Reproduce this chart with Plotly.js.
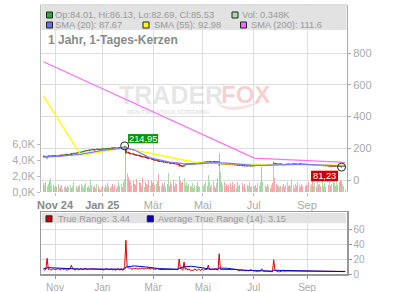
<!DOCTYPE html>
<html><head><meta charset="utf-8">
<script src="https://cdn.plot.ly/plotly-3.0.1.min.js"></script>
<style>html,body{margin:0;padding:0;background:#fff;}#chart{width:400px;height:292px;}</style>
</head><body><div id="chart"></div>
<script>
// ---------- DATA ----------
const firstDay = '2024-10-18', lastDay = '2025-10-14';
const holidays = ['2024-12-24','2024-12-25','2024-12-26','2024-12-31','2025-01-01','2025-04-18','2025-04-21','2025-05-01'];

const open = [
 150,147,150,146,149,152,148,151,154,150,                                   // Oct 24
 153,151,149,153,156,154,158,155,159,162,160,157,161,164,162,166,169,167,170,173,171, // Nov
 175,176,180,178,183,186,184,188,186,190,193,191,189,192,195,193,190,194,   // Dec
 196,195,197,194,198,200,197,199,202,200,203,201,199,202,205,203,206,204,207,209,172,175, // Jan 25
 171,168,165,167,162,160,158,155,157,152,150,148,145,147,142,140,138,135,137,132, // Feb
 129,127,124,126,121,119,117,119,115,113,115,111,109,111,107,105,108,104,102,105,101, // Mar
 99,92,90,88,86,94,96,101,99,103,100,102,104,101,105,107,104,108,110,108,   // Apr
 110,111,113,115,111,114,116,113,115,117,114,112,115,114,102,104,101,103,100,102,99, // May
 101,100,98,99,96,97,95,96,93,94,92,93,90,91,89,90,88,89,91,88,90,          // Jun
 89,90,92,91,93,95,98,93,95,94,96,94,95,97,96,98,96,105,103,101,100,101,102, // Jul
 99,96,98,97,99,101,100,98,99,101,102,100,101,99,100,102,101,99,98,100,99,  // Aug
 96,97,95,96,98,96,94,95,93,94,92,93,91,92,90,91,89,90,88,89,87,88,         // Sep
 86,87,86,88,87,86,84,83,85,84.01                                           // Oct 25
];
const high = [
 152,152,151,152,154,153,152,156,155,155,
 155,153,154,158,157,160,159,161,164,163,161,162,166,170,168,171,170,172,175,174,177,
 179,182,182,185,188,188,190,190,192,195,195,193,194,197,197,195,196,198,
 198,199,198,200,202,201,201,204,203,205,204,203,204,207,206,208,207,209,214.95,210,178,177,
 173,170,169,168,164,162,160,159,158,154,152,150,149,148,144,142,140,139,138,134,
 131,129,128,127,123,121,121,120,117,117,116,113,113,112,109,110,109,106,107,106,103,
 104,95,93,90,99,99,103,102,105,104,104,106,105,107,109,108,110,112,111,113,
 113,115,117,116,120,118,117,117,119,118,116,117,116,116,106,105,105,104,103,103,103,
 103,101,101,100,99,98,98,97,96,95,95,94,93,92,92,91,91,93,92,92,91,
 92,93,93,94,96,98,99,96,96,97,97,96,98,98,99,99,115,106,104,102,102,103,103,
 100,99,99,100,102,102,101,100,102,103,103,102,102,101,103,103,102,100,101,101,100,
 98,98,97,99,99,97,96,96,95,95,94,94,93,93,92,92,91,91,90,90,89,89,
 88,88,89,89,88,87,85,86,87,86.13
];
const low = [
 145,146,144,131,148,146,147,150,148,149,
 149,147,148,151,152,152,153,154,157,158,155,156,159,158,161,164,165,165,168,169,170,
 172,175,176,177,181,182,183,184,185,188,189,187,187,190,191,188,189,192,
 192,194,192,193,196,195,195,197,198,198,199,197,197,200,201,201,202,203,205,165,168,169,
 165,162,163,160,157,155,152,153,150,147,145,142,143,140,137,135,132,133,130,126,
 125,122,122,119,117,115,115,113,111,111,109,107,107,105,103,103,102,100,100,99,97,
 84,88,86,85,83,93,95,97,98,99,99,101,100,100,104,103,103,107,106,106,
 108,109,111,110,108,112,111,111,113,112,110,110,111,89,100,99,99,98,98,97,97,
 98,96,96,95,94,93,93,91,92,90,90,88,89,87,88,86,87,88,86,87,87,
 88,89,90,90,92,94,92,92,93,93,93,93,94,95,95,96,95,102,100,99,99,100,99,
 95,95,96,96,98,99,97,97,98,100,99,99,98,98,99,100,98,97,97,98,96,
 95,94,94,95,95,93,93,92,92,91,91,90,90,89,89,88,88,87,87,86,86,85,
 85,85,85,86,85,83,81.23,82,84,82.69
];
const close = [
 147,150,146,149,152,148,151,154,150,153,
 151,149,153,156,154,158,155,159,162,160,157,161,164,162,166,169,167,170,173,171,175,
 176,180,178,183,186,184,188,186,190,193,191,189,192,195,193,190,194,196,
 195,197,194,198,200,197,199,202,200,203,201,199,202,205,203,206,204,207,210,172,175,171,
 168,165,167,162,160,158,155,157,152,150,148,145,147,142,140,138,135,137,132,129,
 127,124,126,121,119,117,119,115,113,115,111,109,111,107,105,108,104,102,105,101,99,
 92,90,88,86,94,97,101,99,103,100,102,104,101,105,107,104,108,110,108,111,
 111,113,115,112,114,116,113,115,117,114,112,115,113,102,104,101,103,100,102,99,101,
 100,98,99,96,97,95,96,93,94,92,93,90,91,89,90,88,89,91,88,90,89,
 90,92,91,93,95,97,93,95,94,96,94,95,97,96,98,97,105,103,101,100,101,102,100,
 96,98,97,99,101,100,98,99,101,102,100,101,99,100,102,101,99,98,100,99,97,
 97,95,96,98,96,94,95,93,94,92,93,91,92,90,91,89,90,88,89,87,88,86,
 87,86,88,87,86,84,83,85,86,85.53
];
// volume in thousands
const volume = [
 1.1,0.9,1.3,0.8,1.0,1.4,1.8,0.7,0.9,0.6,
 0.8,0.6,1.0,0.5,0.7,0.9,0.4,0.6,0.8,0.5,0.7,0.6,0.9,0.5,0.7,1.2,0.6,0.8,0.5,0.7,0.9,
 1.0,0.7,0.5,0.9,1.1,0.6,0.8,0.5,1.5,0.9,0.6,0.7,0.5,1.0,0.8,0.4,0.3,0.6,
 0.7,0.5,0.9,0.6,1.1,0.8,0.5,0.7,1.0,0.6,0.9,0.5,0.8,1.3,0.7,1.0,0.6,1.2,1.6,5.5,2.4,1.9,
 1.5,1.2,0.8,1.4,1.0,0.9,1.6,0.7,1.3,1.1,0.8,1.7,0.6,1.2,1.0,0.9,1.5,0.7,1.4,1.1,
 1.2,0.9,1.0,1.4,2.3,0.8,0.7,1.1,0.9,1.3,0.6,1.0,2.4,0.8,1.2,0.9,1.5,0.7,1.1,1.0,2.2,
 2.0,1.4,1.1,1.2,1.8,0.9,1.2,0.7,1.0,0.6,0.8,1.1,0.5,0.9,0.7,1.2,0.8,0.6,1.0,0.9,
 0.8,1.0,1.3,0.7,2.1,1.2,0.6,0.9,1.4,0.8,0.5,1.1,1.7,4.9,2.5,1.3,0.9,1.2,0.7,1.0,0.8,
 0.9,1.1,0.6,1.3,0.8,1.0,0.5,1.2,0.7,0.9,0.6,1.1,0.8,1.0,0.5,0.9,0.7,1.2,0.6,0.8,0.7,
 0.7,0.9,0.5,1.1,0.8,1.3,3.1,1.2,0.7,0.9,0.6,1.0,0.8,0.5,0.9,1.1,3.6,1.8,1.0,0.7,0.9,0.6,0.8,
 0.8,1.0,0.6,0.9,1.2,0.7,0.9,0.8,1.6,0.9,0.5,1.0,0.7,1.3,0.9,0.6,1.0,0.8,1.2,0.7,0.9,
 0.9,1.2,0.7,1.0,1.4,0.8,1.1,0.6,1.3,0.9,1.0,0.7,1.5,0.8,1.1,0.6,1.4,0.9,1.2,0.7,1.0,1.3,
 1.1,0.8,1.3,0.9,1.2,1.5,1.4,1.0,0.7,0.348
];
const trueRange = [
 6,5,7,21,6,7,5,6,7,6,
 6,6,6,7,5,8,6,7,7,5,6,6,7,12,7,7,5,7,7,5,7,
 7,7,6,8,7,6,7,6,7,7,6,6,7,7,6,7,7,6,
 6,5,7,7,6,6,6,7,5,7,5,6,7,7,5,7,5,6,10,45,10,8,
 8,8,6,8,7,7,8,6,8,7,7,8,6,8,7,7,8,6,8,8,
 6,7,6,8,6,6,6,7,6,6,7,6,6,7,6,7,7,6,7,7,6,
 20,7,7,5,16,6,8,5,7,5,5,5,5,7,5,5,7,5,5,7,
 5,6,6,6,12,6,6,6,6,6,6,7,5,27,6,6,6,6,5,6,6,
 5,5,5,5,5,5,5,6,4,5,5,6,4,5,4,5,4,5,6,5,4,
 4,4,3,4,4,4,7,4,3,4,4,3,4,3,4,3,19,6,4,3,3,3,4,
 4,4,3,4,4,3,4,3,4,3,4,3,4,3,4,3,4,3,4,3,4,
 3,4,3,4,4,4,3,4,3,4,3,4,3,4,3,4,3,4,3,4,3,4,
 3,3,4,3,3,4,3.8,4,3,3.44
];
const sma20Dates  = ['2024-10-18','2024-11-08','2024-11-29','2024-12-16','2025-01-03','2025-01-17','2025-01-28','2025-02-07','2025-02-26','2025-03-20','2025-04-04','2025-04-17','2025-05-02','2025-05-16','2025-05-30','2025-06-13','2025-06-30','2025-07-15','2025-07-31','2025-08-15','2025-08-29','2025-09-15','2025-09-30','2025-10-14'];
const sma20Values = [145,150,162,177,188,196,203,189,140,113,103,100,103,109,106,98,92,93,97,99,99,96,91,87.67];
const sma55Dates  = ['2024-10-18','2024-12-02','2025-01-27','2025-04-25','2025-07-01','2025-10-14'];
const sma55Values = [530,154,202,107,99,92.98];
const sma200Dates  = ['2024-10-18','2025-07-01','2025-10-14'];
const sma200Values = [745,138,111.6];
const atrDates  = ['2024-10-18','2024-10-22','2024-10-23','2024-11-08','2024-11-29','2024-12-20','2025-01-28','2025-01-29','2025-02-07','2025-02-20','2025-03-07','2025-03-31','2025-04-01','2025-04-07','2025-04-15','2025-04-30','2025-05-09','2025-05-20','2025-05-21','2025-05-30','2025-06-16','2025-07-10','2025-07-22','2025-07-23','2025-08-08','2025-08-29','2025-09-30','2025-10-14'];
const atrValues = [7.5,7.2,8.5,7.6,6.6,6.6,6.4,9.3,10.8,9.5,7.2,6.4,7.5,9.5,10.3,8.3,6.6,6.2,8.0,7.6,5.2,4.2,3.9,5.0,4.4,3.6,3.5,3.15];
const tickDates = ['2024-11-01','2025-01-02','2025-03-03','2025-05-02','2025-07-01','2025-09-01'];
const mainTickLabels = ['Nov 24','Jan 25','Mär','Mai','Jul','Sep'];
const lowTickLabels = ['Nov','Jan','Mär','Mai','Jul','Sep'];
const volTicks = [0,2,4,6];
const volTickLabels = ['0,0K','2,0K','4,0K','6,0K'];
const priceTicks = [0,200,400,600,800];
const atrTicks = [0,20,40,60];

// ---------- BUILD ----------
function tradingDays(){
  const out=[]; const d=new Date(firstDay+'T00:00:00Z'); const end=new Date(lastDay+'T00:00:00Z');
  while(d<=end){ const wd=d.getUTCDay(); const s=d.toISOString().slice(0,10);
    if(wd!==0 && wd!==6 && !holidays.includes(s)) out.push(s);
    d.setUTCDate(d.getUTCDate()+1); }
  return out;
}
const days = tradingDays();
const N = Math.min(days.length, close.length);
const xs = days.slice(0,N).map(s=>s+' 12:00');
const noon = a => a.map(s=>s+' 12:00');

const FONT = 'Liberation Sans, Arial, sans-serif';
const W=400,H=292,L=41,R=53,T=5,B=18;
const PW=W-L-R, PH=H-T-B;
const px = x => (x-L)/PW;
const py = y => (H-B-y)/PH;
const mainBottom = py(192), lowTop = py(212);
const kPrice = 127/800; // px per price unit
const priceRange = [-(192-180)/kPrice, (180-5)/kPrice];
const volRange = [0, 187/8];
const atrRange = [0, 62/0.75];
const xRange = ['2024-10-16 10:34','2025-10-16 00:00'];
const rb = [{bounds:['sat','mon']},{values:holidays}];

const upC='#33a833', dnC='#cc1111';
const volColors = xs.map((_,i)=> close[i]>=open[i] ? '#a9dca9' : '#f3a7aa');

let iMax=0,iMin=0;
for(let i=0;i<N;i++){ if(high[i]>high[iMax]) iMax=i; if(low[i]<low[iMin]) iMin=i; }

const traces = [
  {type:'bar', x:xs, y:volume.slice(0,N), xaxis:'x', yaxis:'y', width:0.8*864e5,
   marker:{color:volColors, line:{width:0}}, hoverinfo:'skip'},
  {type:'scatter', mode:'lines', x:noon(sma200Dates), y:sma200Values, xaxis:'x', yaxis:'y2', line:{color:'#ff70ff', width:1.3}},
  {type:'scatter', mode:'lines', x:noon(sma55Dates), y:sma55Values, xaxis:'x', yaxis:'y2', line:{color:'#ffff00', width:1.3}},
  {type:'scatter', mode:'lines', x:noon(sma20Dates), y:sma20Values, xaxis:'x', yaxis:'y2', line:{color:'#7b7bff', width:1.3}},
  {type:'candlestick', x:xs, open:open.slice(0,N), high:high.slice(0,N), low:low.slice(0,N), close:close.slice(0,N),
   xaxis:'x', yaxis:'y2', whiskerwidth:0,
   increasing:{line:{color:upC,width:1}, fillcolor:upC}, decreasing:{line:{color:dnC,width:1}, fillcolor:dnC}},
  {type:'scatter', mode:'markers', x:[xs[iMax],xs[iMin]], y:[high[iMax],low[iMin]], xaxis:'x', yaxis:'y2',
   marker:{symbol:'circle-open', size:8, color:'#222', line:{width:1, color:'#222'}}},
  {type:'scatter', mode:'lines', x:xs, y:trueRange.slice(0,N), xaxis:'x2', yaxis:'y3', line:{color:'#dd0000', width:1}},
  {type:'scatter', mode:'lines', x:noon(atrDates), y:atrValues, xaxis:'x2', yaxis:'y3', line:{color:'#0000cc', width:1}}
];

const fmt = v => v.toFixed(2).replace('.',',');
const sq = (x,y,c) => ({type:'rect', xref:'paper', yref:'paper', x0:px(x), x1:px(x+6), y0:py(y+3), y1:py(y-3),
  fillcolor:c, line:{color:'#222', width:1}, layer:'above'});
// fox-tail swoosh of the watermark logo (decoration)
const tail = `M ${px(216)},${py(103)} Q ${px(232)},${py(119)} ${px(266)},${py(99)} Q ${px(234)},${py(112)} ${px(216)},${py(103)} Z`;
const shapes = [
  {type:'path', xref:'paper', yref:'paper', path:tail, fillcolor:'rgba(225,90,90,0.18)', line:{width:0}, layer:'below'},
  {type:'line', xref:'paper', yref:'paper', x0:0, x1:1, y0:1, y1:1, line:{color:'#bbb', width:1}},
  {type:'rect', xref:'paper', yref:'paper', x0:px(41.5), x1:px(346.5), y0:py(30), y1:py(5.7), fillcolor:'#e2e2e2', line:{width:0}, layer:'above'},
  sq(46.5,15,'#33a833'), sq(232,15,'#a9dca9'),
  sq(46.5,25,'#6b6bff'), sq(143,25,'#ffff00'), sq(240.5,25,'#ff66ff'),
  {type:'rect', xref:'paper', yref:'paper', x0:px(41.8), x1:px(346.2), y0:py(223.3), y1:py(213), fillcolor:'#e2e2e2', line:{width:0}, layer:'above'},
  sq(46,218.8,'#cc0000'), sq(147.3,218.8,'#0000cc'),
  {type:'rect', xref:'x', yref:'y2', xsizemode:'pixel', ysizemode:'pixel', xanchor:xs[iMax], yanchor:high[iMax],
   x0:3.4, x1:33.4, y0:2.6, y1:11.8, fillcolor:'#009900', line:{width:0}, layer:'above'},
  {type:'rect', xref:'x', yref:'y2', xsizemode:'pixel', ysizemode:'pixel', xanchor:xs[iMin], yanchor:low[iMin],
   x0:-30.5, x1:-3.5, y0:-3.6, y1:-14.2, fillcolor:'#cc0000', line:{width:0}, layer:'above'}
];
const last = N-1;
const lg = {family:FONT, size:9.3, color:'#999'};
const txt = (x,y,t,font,anchor) => ({xref:'paper', yref:'paper', x:px(x), y:py(y), text:t, showarrow:false,
  xanchor:anchor||'left', yanchor:'middle', font:font, borderpad:0});
const wm1 = txt(223.5,94.5,'<b>TRADER</b>',{family:FONT,size:25,color:'rgba(185,185,185,0.35)'},'right');
const wm2 = txt(220,94.5,'<b>FOX</b>',{family:FONT,size:24,color:'rgba(225,90,90,0.28)'});
const annotations = [
  txt(54,15.3,`Op:${open[last].toFixed(2)}, Hi:${high[last].toFixed(2)}, Lo:${low[last].toFixed(2)}, Cl:${close[last].toFixed(2)}`,lg),
  txt(240.5,15.3,`Vol: ${volume[last].toFixed(3)}K`,lg),
  txt(54,25.3,`SMA (20): ${sma20Values[sma20Values.length-1].toFixed(2)}`,lg),
  txt(152.5,25.3,`SMA (55): ${sma55Values[sma55Values.length-1].toFixed(2)}`,lg),
  txt(250,25.3,`SMA (200): ${sma200Values[sma200Values.length-1].toFixed(1)}`,lg),
  txt(47,40,'<b>1 Jahr, 1-Tages-Kerzen</b>',{family:FONT,size:12,color:'#8a8a8a'}),
  wm1, wm2,
  txt(168.5,112,'<b>REALTIME STOCK SCREENING</b>',{family:FONT,size:5.5,color:'rgba(185,185,185,0.45)'},'center'),
  txt(56.5,218.8,`True Range: ${trueRange[last].toFixed(2)}`,lg),
  txt(156.5,218.8,`Average True Range (14): ${atrValues[atrValues.length-1].toFixed(2)}`,lg),
  {xref:'x', yref:'y2', x:xs[iMax], y:high[iMax], text:fmt(high[iMax]), showarrow:false, xanchor:'center', yanchor:'middle',
   xshift:18.4, yshift:7.3, font:{family:FONT,size:9.3,color:'#fff'}},
  {xref:'x', yref:'y2', x:xs[iMin], y:low[iMin], text:fmt(low[iMin]), showarrow:false, xanchor:'center', yanchor:'middle',
   xshift:-17, yshift:-8.9, font:{family:FONT,size:9.3,color:'#fff'}}
];

const mainTickText = mainTickLabels.map((t,i)=> i<2 ? `<span style="color:#888"><b>${t}</b></span>` : t);
const grid='#dedede';
const layout = {
  width:W, height:H, margin:{l:L,r:R,t:T,b:B,pad:0}, paper_bgcolor:'#fff', plot_bgcolor:'#fff',
  showlegend:false, font:{family:FONT,size:11,color:'#aaa'}, bargap:0,
  xaxis:{type:'date', domain:[0,1], anchor:'y', range:xRange, rangebreaks:rb, rangeslider:{visible:false},
    tickmode:'array', tickvals:tickDates, ticktext:mainTickText, showgrid:true, gridcolor:grid, gridwidth:1,
    ticks:'outside', ticklen:3, tickcolor:'#bbb', tickfont:{family:FONT,size:11,color:'#aaa'}, showline:false, zeroline:false},
  yaxis:{domain:[mainBottom,1], anchor:'x', side:'left', range:volRange, tickmode:'array', tickvals:volTicks, ticktext:volTickLabels,
    showgrid:false, zeroline:false, showline:true, linecolor:'#bbb', linewidth:1, ticks:'outside', ticklen:3, tickcolor:'#bbb',
    tickfont:{family:FONT,size:11,color:'#aaa'}},
  yaxis2:{overlaying:'y', anchor:'x', side:'right', range:priceRange, tickmode:'array', tickvals:priceTicks,
    showgrid:true, gridcolor:grid, zeroline:false, showline:true, linecolor:'#aaa', linewidth:1, ticks:'outside', ticklen:3,
    tickcolor:'#aaa', tickfont:{family:FONT,size:11,color:'#aaa'}},
  xaxis2:{type:'date', domain:[0,1], anchor:'y3', range:xRange, rangebreaks:rb, tickmode:'array', tickvals:tickDates, ticktext:lowTickLabels,
    showgrid:true, gridcolor:grid, ticks:'outside', ticklen:3, tickcolor:'#999', tickfont:{family:FONT,size:10,color:'#aaa'},
    showline:true, mirror:true, linecolor:'#999', linewidth:1.5, zeroline:false},
  yaxis3:{domain:[0,lowTop], anchor:'x2', side:'right', range:atrRange, tickmode:'array', tickvals:atrTicks,
    showgrid:true, gridcolor:grid, zeroline:false, showline:true, mirror:true, linecolor:'#999', linewidth:1.5,
    ticks:'outside', ticklen:3, tickcolor:'#999', tickfont:{family:FONT,size:10,color:'#aaa'}},
  shapes:shapes, annotations:annotations
};
Plotly.newPlot('chart', traces, layout, {staticPlot:true, displayModeBar:false});
</script></body></html>
